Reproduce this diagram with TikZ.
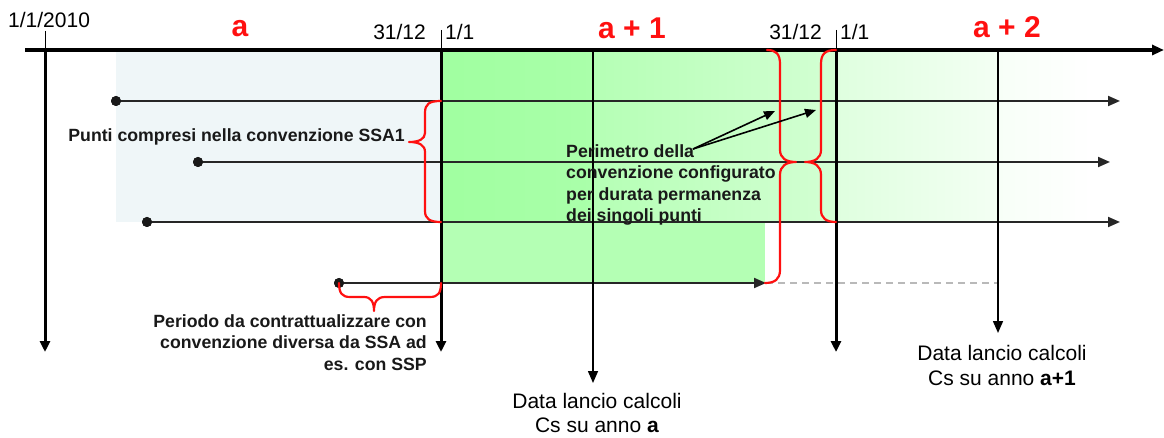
\documentclass[tikz,border=0pt]{standalone}
\usepackage{fontspec}
\setmainfont{Liberation Sans}
\usetikzlibrary{arrows.meta}
\definecolor{bluebg}{RGB}{239,246,248}
\definecolor{gA}{RGB}{160,255,160}
\definecolor{gB}{RGB}{170,255,170}
\definecolor{gC}{RGB}{181,255,181}
\definecolor{gD}{RGB}{211,255,211}
\definecolor{gE}{RGB}{223,255,223}
\definecolor{gF}{RGB}{243,255,243}
\definecolor{gG}{RGB}{247,255,247}
\definecolor{glow}{RGB}{180,255,180}
\definecolor{bred}{RGB}{255,16,16}
\definecolor{lgray}{RGB}{51,51,51}
\tikzset{
  tip/.style={-{Triangle[length=12pt,width=10pt]}},
  axisline/.style={line width=3.5pt, tip},
  thickv/.style={line width=3pt, -{Triangle[length=11pt,width=10pt]}},
  thinv/.style={line width=1.6pt, -{Triangle[length=12pt,width=10pt]}},
  tick/.style={line width=1pt},
  pline/.style={line width=2pt, lgray, -{Triangle[length=12pt,width=10pt]}, draw=black!85},
  dot/.style={circle, fill=black!90, inner sep=0pt, minimum size=10pt},
  bracestyle/.style={bred, line width=2.2pt, line cap=round, line join=round},
  regular/.style={font=\fontsize{21}{24}\selectfont, inner sep=0pt},
  boldlab/.style={font=\fontsize{17.7}{21.5}\selectfont\bfseries, inner sep=0pt, text=black!90},
  yearlab/.style={font=\fontsize{30}{32}\selectfont\bfseries, text=bred, inner sep=0pt},
  pointer/.style={line width=1.6pt, -{Triangle[length=11pt,width=9pt]}}
}
\begin{document}
\begin{tikzpicture}[x=1pt,y=-1pt]
\useasboundingbox (0,0) rectangle (1164,438);
% backgrounds
\fill[bluebg] (116,50) rectangle (441,222);
\shade[left color=gA, right color=gB] (441,50) rectangle (593,222);
\shade[left color=gC, right color=gD] (593,50) rectangle (836,222);
\shade[left color=gE, right color=gF] (836,50) rectangle (997,222);
\shade[left color=gG, right color=white] (997,50) rectangle (1092,222);
\fill[glow] (441,222) rectangle (765,283);

% coordinates
\coordinate (ax0) at (25,50);
\coordinate (ax1) at (1164,50);
\coordinate (v0t) at (45,31);  \coordinate (v0a) at (45,50);  \coordinate (v0b) at (45,352);
\coordinate (v1t) at (441,30); \coordinate (v1a) at (441,50); \coordinate (v1b) at (441,352);
\coordinate (v2t) at (836,30); \coordinate (v2a) at (836,50); \coordinate (v2b) at (836,352);
\coordinate (c1a) at (593,50); \coordinate (c1b) at (593,383);
\coordinate (c2a) at (998,50); \coordinate (c2b) at (998,333);

% point nodes
\node[dot] (p1) at (116,101) {};
\node[dot] (p2) at (198,162) {};
\node[dot] (p3) at (147,222) {};
\node[dot] (p4) at (339,283) {};
\coordinate (e1) at (1120,101);
\coordinate (e2) at (1110,162);
\coordinate (e3) at (1120,222);
\coordinate (e4) at (766,283);
\coordinate (e4d) at (998,283);

% point lines
\draw[pline] (p1.center) -- (e1);
\draw[pline] (p2.center) -- (e2);
\draw[pline] (p3.center) -- (e3);
\draw[pline] (p4.center) -- (e4);
\draw[gray!55, line width=1.3pt, dash pattern=on 7pt off 5pt] (e4) -- (e4d);

% verticals
\draw[thinv] (c1a) -- (c1b);
\draw[thinv] (c2a) -- (c2b);
\draw[tick] (v0t) -- (v0a);
\draw[tick] (v1t) -- (v1a);
\draw[tick] (v2t) -- (v2a);
\draw[thickv] (v0a) -- (v0b);
\draw[thickv] (v1a) -- (v1b);
\draw[thickv] (v2a) -- (v2b);
\draw[axisline] (ax0) -- (ax1);

% dots on top
\node[dot] at (p1) {};
\node[dot] at (p2) {};
\node[dot] at (p3) {};
\node[dot] at (p4) {};

% braces
\draw[bracestyle] (441,101) .. controls (429,101) and (425,104) .. (425,113) -- (425,133)
  .. controls (425,139) and (419,142) .. (409,142)
  .. controls (419,142) and (425,145) .. (425,152) -- (425,211)
  .. controls (425,219) and (430,222) .. (441,222);
\draw[bracestyle] (339,283) .. controls (339,293) and (342,297) .. (350,297) -- (364,297)
  .. controls (371,297) and (374,302) .. (374,311)
  .. controls (374,302) and (377,297) .. (385,297) -- (430,297)
  .. controls (438,297) and (441,293) .. (441,283);
\draw[bracestyle] (767,50) .. controls (776,50) and (780,54) .. (780,64) -- (780,150)
  .. controls (780,158) and (786,162) .. (796,162)
  .. controls (786,162) and (780,166) .. (780,175) -- (780,270)
  .. controls (780,279) and (775,283) .. (765,283);
\draw[bracestyle] (836,50) .. controls (825,50) and (821,54) .. (821,64) -- (821,150)
  .. controls (821,158) and (815,162) .. (805,162)
  .. controls (815,162) and (821,166) .. (821,175) -- (821,210)
  .. controls (821,218) and (826,222) .. (836,222);

% top labels
\node[regular, anchor=base west] (l2010) at (8,28) {1/1/2010};
\node[regular, anchor=base east] (l3112a) at (426,40) {31/12};
\node[regular, anchor=base west] (l11a) at (445,40) {1/1};
\node[regular, anchor=base east] (l3112b) at (822,40) {31/12};
\node[regular, anchor=base west] (l11b) at (840,40) {1/1};
\node[yearlab, anchor=base] (ya) at (240,37) {a};
\node[yearlab, anchor=base] (ya1) at (632,39) {a + 1};
\node[yearlab, anchor=base] (ya2) at (1007,38) {a + 2};

% bold labels
\node[boldlab, anchor=base east] (punti) at (405,142) {Punti compresi nella convenzione SSA1};
\node[boldlab, anchor=north east, align=right] (periodo) at (427,314)
  {Periodo da contrattualizzare con\\convenzione diversa da SSA ad\\es. con SSP};
\node[boldlab, anchor=north west, align=left] (perim) at (566,144)
  {Perimetro della\\convenzione configurato\\per durata permanenza\\dei singoli punti};
\coordinate (ps) at (693,149);
\coordinate (pt1) at (775,111);
\coordinate (pt2) at (816,110);
\draw[pointer] (ps) -- (pt1);
\draw[pointer] (ps) -- (pt2);

% bottom labels
\node[regular, anchor=north, align=center, font=\fontsize{21}{24}\selectfont] (dl1) at (597,393)
  {Data lancio calcoli\\Cs su anno \textbf{a}};
\node[regular, anchor=north, align=center, font=\fontsize{21}{25}\selectfont] (dl2) at (1002,345)
  {Data lancio calcoli\\Cs su anno \textbf{a+1}};
\end{tikzpicture}
\end{document}
